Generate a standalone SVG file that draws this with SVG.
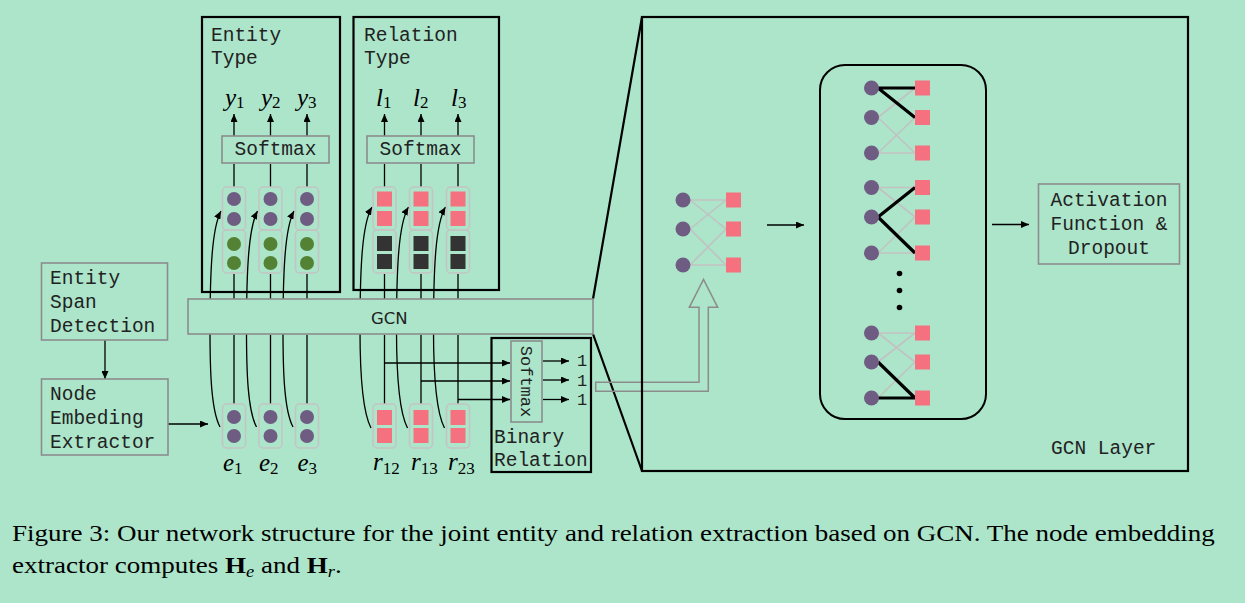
<svg xmlns="http://www.w3.org/2000/svg" width="1245" height="603" viewBox="0 0 1245 603">
<defs>
<marker id="ah" viewBox="0 0 8 7" refX="8" refY="3.5" markerWidth="8" markerHeight="7" markerUnits="userSpaceOnUse" orient="auto">
<path d="M0,0 L8,3.5 L0,7 z" fill="#000"/>
</marker>
</defs>
<style>
.box{fill:none;stroke:#000;stroke-width:2.2}
.gbox{fill:#ace5ca;stroke:#8c8c8c;stroke-width:1.6}
.col{fill:none;stroke:#c4c4c4;stroke-width:1.5}
.mono{font-family:"Liberation Mono","Courier New",monospace;font-size:19.5px;fill:#222}
.sm{font-size:17px}
.sans{font-family:"DejaVu Sans",sans-serif;font-size:16.5px;fill:#222}
.math{font-family:"Liberation Serif",serif;font-style:italic;font-size:25px;fill:#000}
.sub{font-size:17px;font-style:normal}
.cap{font-family:"Liberation Serif","Times New Roman",serif;font-size:23.5px;fill:#000}
.pur{fill:#6e5c82}
.grn{fill:#548235}
.pnk{fill:#f5717f}
.drk{fill:#333}
.arr{stroke:#000;stroke-width:1.3;fill:none;marker-end:url(#ah)}
.thin{stroke:#c2c2c2;stroke-width:1.6}
.thick{stroke:#000;stroke-width:3.2}
</style>
<rect x="0" y="0" width="1245" height="603" fill="#ace5ca"/>

<g id="connectors">
<path class="arr" d="M234 404 L234 335 M234 299 L234 274 M234 187 L234 164 M234 136 L234 114"/>
<path class="arr" d="M270.5 404 L270.5 335 M270.5 299 L270.5 274 M270.5 187 L270.5 164 M270.5 136 L270.5 114"/>
<path class="arr" d="M307 404 L307 335 M307 299 L307 274 M307 187 L307 164 M307 136 L307 114"/>
<path class="arr" d="M220 427 C211 410,210 370,210 330 C210 270,212 228,221 211"/>
<path class="arr" d="M256.5 427 C247.5 410,246.5 370,246.5 330 C246.5 270,248.5 228,257.5 211"/>
<path class="arr" d="M293 427 C284 410,283 370,283 330 C283 270,285 228,294 211"/>
<path class="arr" d="M384.5 404 L384.5 335 M384.5 299 L384.5 274 M384.5 187 L384.5 164 M384.5 136 L384.5 114"/>
<path class="arr" d="M421 404 L421 335 M421 299 L421 274 M421 187 L421 164 M421 136 L421 114"/>
<path class="arr" d="M458 404 L458 335 M458 299 L458 274 M458 187 L458 164 M458 136 L458 114"/>
<path class="arr" d="M371 428 C362 411,360 370,360 330 C360 268,362 224,372 207"/>
<path class="arr" d="M407.5 428 C398.5 411,396.5 370,396.5 330 C396.5 268,398.5 224,408.5 207"/>
<path class="arr" d="M444.5 428 C435.5 411,433.5 370,433.5 330 C433.5 268,435.5 224,445.5 207"/>
<path class="arr" d="M384.5 363 L510 363"/>
<path class="arr" d="M421 381 L510 381"/>
<path class="arr" d="M458 399.5 L510 399.5"/>
<path class="arr" d="M543 361 L569 361"/>
<path class="arr" d="M543 380 L569 380"/>
<path class="arr" d="M543 399.5 L569 399.5"/>
<path class="arr" d="M105 340 L105 379"/>
<path class="arr" d="M168 424 L208 424"/>
<path class="arr" d="M767 225 L804 225"/>
<path class="arr" d="M992 224.5 L1029 224.5"/>
<path d="M593 299 L642 17 M593 334 L642 471" stroke="#000" stroke-width="2.2" fill="none"/>
<path d="M595.7 382.3 L699 382.3 L699 307.3 L689.3 307.3 L703.5 279.3 L717.7 307.3 L708.3 307.3 L708.3 391.3 L595.7 391.3 Z" fill="none" stroke="#8c8c8c" stroke-width="1.5"/>
</g>

<g id="entity-span">
<rect class="gbox" x="41.5" y="263" width="126" height="77"/>
<text class="mono" x="50" y="284">Entity</text>
<text class="mono" x="50" y="308">Span</text>
<text class="mono" x="50" y="332">Detection</text>
</g>

<g id="node-embedding">
<rect class="gbox" x="41.5" y="379" width="126.5" height="76"/>
<text class="mono" x="50" y="400">Node</text>
<text class="mono" x="50" y="424">Embeding</text>
<text class="mono" x="50" y="448">Extractor</text>
</g>

<g id="gcn-bar">
<rect class="gbox" x="188" y="299" width="405" height="35"/>
<text class="sans" x="371" y="323.5">GCN</text>
</g>

<g id="entity-type">
<rect class="box" x="202" y="17" width="138" height="275"/>
<text class="mono" x="211" y="41">Entity</text>
<text class="mono" x="211" y="64">Type</text>
<rect class="gbox" x="222" y="136" width="107" height="27"/>
<text class="mono" x="275.5" y="155" text-anchor="middle">Softmax</text>
<text class="math" x="225" y="106">y<tspan class="sub" dy="2">1</tspan></text>
<text class="math" x="261" y="106">y<tspan class="sub" dy="2">2</tspan></text>
<text class="math" x="297" y="106">y<tspan class="sub" dy="2">3</tspan></text>
</g>

<g id="entity-hidden">
<rect class="col" x="222.5" y="187" width="23" height="43" rx="4"/>
<rect class="col" x="222.5" y="230" width="23" height="43" rx="4"/>
<rect class="col" x="259" y="187" width="23" height="43" rx="4"/>
<rect class="col" x="259" y="230" width="23" height="43" rx="4"/>
<rect class="col" x="295.5" y="187" width="23" height="43" rx="4"/>
<rect class="col" x="295.5" y="230" width="23" height="43" rx="4"/>
<circle class="pur" cx="234" cy="199" r="7"/><circle class="pur" cx="234" cy="219" r="7"/>
<circle class="grn" cx="234" cy="244" r="7"/><circle class="grn" cx="234" cy="263" r="7"/>
<circle class="pur" cx="270.5" cy="199" r="7"/><circle class="pur" cx="270.5" cy="219" r="7"/>
<circle class="grn" cx="270.5" cy="244" r="7"/><circle class="grn" cx="270.5" cy="263" r="7"/>
<circle class="pur" cx="307" cy="199" r="7"/><circle class="pur" cx="307" cy="219" r="7"/>
<circle class="grn" cx="307" cy="244" r="7"/><circle class="grn" cx="307" cy="263" r="7"/>
</g>

<g id="entity-nodes">
<rect class="col" x="222.5" y="404" width="23" height="44" rx="4"/>
<rect class="col" x="259" y="404" width="23" height="44" rx="4"/>
<rect class="col" x="295.5" y="404" width="23" height="44" rx="4"/>
<circle class="pur" cx="234" cy="417" r="7"/><circle class="pur" cx="234" cy="436" r="7"/>
<circle class="pur" cx="270.5" cy="417" r="7"/><circle class="pur" cx="270.5" cy="436" r="7"/>
<circle class="pur" cx="307" cy="417" r="7"/><circle class="pur" cx="307" cy="436" r="7"/>
<text class="math" x="223" y="471">e<tspan class="sub" dy="3">1</tspan></text>
<text class="math" x="259" y="471">e<tspan class="sub" dy="3">2</tspan></text>
<text class="math" x="297.5" y="471">e<tspan class="sub" dy="3">3</tspan></text>
</g>

<g id="relation-type">
<rect class="box" x="353.5" y="17" width="145.5" height="273"/>
<text class="mono" x="364" y="41">Relation</text>
<text class="mono" x="364" y="64">Type</text>
<rect class="gbox" x="367" y="136" width="107" height="27"/>
<text class="mono" x="420.5" y="155" text-anchor="middle">Softmax</text>
<text class="math" x="376" y="106">l<tspan class="sub" dy="2">1</tspan></text>
<text class="math" x="413" y="106">l<tspan class="sub" dy="2">2</tspan></text>
<text class="math" x="451" y="106">l<tspan class="sub" dy="2">3</tspan></text>
</g>

<g id="relation-hidden">
<rect class="col" x="373" y="187" width="23" height="43" rx="4"/>
<rect class="col" x="373" y="230" width="23" height="43" rx="4"/>
<rect class="col" x="409.5" y="187" width="23" height="43" rx="4"/>
<rect class="col" x="409.5" y="230" width="23" height="43" rx="4"/>
<rect class="col" x="446.5" y="187" width="23" height="43" rx="4"/>
<rect class="col" x="446.5" y="230" width="23" height="43" rx="4"/>
<rect class="pnk" x="377" y="191.5" width="15" height="15"/><rect class="pnk" x="377" y="211" width="15" height="15"/>
<rect class="drk" x="377" y="236" width="15" height="15"/><rect class="drk" x="377" y="254" width="15" height="15"/>
<rect class="pnk" x="413.5" y="191.5" width="15" height="15"/><rect class="pnk" x="413.5" y="211" width="15" height="15"/>
<rect class="drk" x="413.5" y="236" width="15" height="15"/><rect class="drk" x="413.5" y="254" width="15" height="15"/>
<rect class="pnk" x="450.5" y="191.5" width="15" height="15"/><rect class="pnk" x="450.5" y="211" width="15" height="15"/>
<rect class="drk" x="450.5" y="236" width="15" height="15"/><rect class="drk" x="450.5" y="254" width="15" height="15"/>
</g>

<g id="relation-nodes">
<rect class="col" x="373" y="404" width="23" height="44" rx="4"/>
<rect class="col" x="409.5" y="404" width="23" height="44" rx="4"/>
<rect class="col" x="446.5" y="404" width="23" height="44" rx="4"/>
<rect class="pnk" x="377" y="410" width="15" height="15"/><rect class="pnk" x="377" y="428" width="15" height="15"/>
<rect class="pnk" x="413.5" y="410" width="15" height="15"/><rect class="pnk" x="413.5" y="428" width="15" height="15"/>
<rect class="pnk" x="450.5" y="410" width="15" height="15"/><rect class="pnk" x="450.5" y="428" width="15" height="15"/>
<text class="math" x="373" y="470">r<tspan class="sub" dy="4">12</tspan></text>
<text class="math" x="411" y="470">r<tspan class="sub" dy="4">13</tspan></text>
<text class="math" x="448" y="470">r<tspan class="sub" dy="4">23</tspan></text>
</g>

<g id="binary-relation">
<rect class="box" x="491.5" y="338" width="99.5" height="134"/>
<rect class="gbox" x="511" y="341" width="31" height="81"/>
<text class="mono sm" transform="translate(526.5,381.5) rotate(90)" x="0" y="6" text-anchor="middle">Softmax</text>
<text class="mono sm" x="577" y="366">1</text>
<text class="mono sm" x="577" y="385.5">1</text>
<text class="mono sm" x="577" y="405">1</text>
<text class="mono" x="494" y="443">Binary</text>
<text class="mono" x="494" y="466">Relation</text>
</g>

<g id="gcn-layer">
<rect class="box" x="642" y="17" width="546" height="454"/>
<text class="mono" x="1051" y="454">GCN Layer</text>
</g>

<g id="small-graph">
<path class="thin" d="M690 200 L726 200 M690 200 L726 229 M690 229 L726 200 M690 229 L726 265 M690 265 L726 229 M690 265 L726 265"/>
<circle class="pur" cx="683" cy="200" r="7.5"/><circle class="pur" cx="683" cy="229" r="7.5"/><circle class="pur" cx="683" cy="265" r="7.5"/>
<rect class="pnk" x="726" y="192.5" width="15" height="15"/><rect class="pnk" x="726" y="221.5" width="15" height="15"/><rect class="pnk" x="726" y="257.5" width="15" height="15"/>
</g>

<g id="aggregation">
<rect x="820" y="65" width="166" height="354" rx="25" fill="none" stroke="#000" stroke-width="2"/>
<path class="thin" d="M878 117.5 L915 88 M878 117.5 L915 153 M878 153 L915 153 M878 153 L915 117.5"/>
<path class="thin" d="M878 187.5 L915 187.5 M878 187.5 L915 217 M878 253 L915 253 M878 253 L915 217"/>
<path class="thin" d="M878 333 L915 333 M878 333 L915 362 M878 362 L915 333 M878 398 L915 362"/>
<path class="thick" d="M878 88 L915 88 M878 88 L915 117.5"/>
<path class="thick" d="M878 217 L915 187.5 M878 217 L915 253"/>
<path class="thick" d="M878 362 L915 398 M878 398 L915 398"/>
<circle class="pur" cx="871.5" cy="88" r="7.5"/><circle class="pur" cx="871.5" cy="117.5" r="7.5"/><circle class="pur" cx="871.5" cy="153" r="7.5"/>
<circle class="pur" cx="871.5" cy="187.5" r="7.5"/><circle class="pur" cx="871.5" cy="217" r="7.5"/><circle class="pur" cx="871.5" cy="253" r="7.5"/>
<circle class="pur" cx="871.5" cy="333" r="7.5"/><circle class="pur" cx="871.5" cy="362" r="7.5"/><circle class="pur" cx="871.5" cy="398" r="7.5"/>
<rect class="pnk" x="915" y="80.5" width="15" height="15"/><rect class="pnk" x="915" y="110" width="15" height="15"/><rect class="pnk" x="915" y="145.5" width="15" height="15"/>
<rect class="pnk" x="915" y="180" width="15" height="15"/><rect class="pnk" x="915" y="209.5" width="15" height="15"/><rect class="pnk" x="915" y="245.5" width="15" height="15"/>
<rect class="pnk" x="915" y="325.5" width="15" height="15"/><rect class="pnk" x="915" y="354.5" width="15" height="15"/><rect class="pnk" x="915" y="390.5" width="15" height="15"/>
<circle cx="899.5" cy="273.5" r="2.8" fill="#000"/><circle cx="899.5" cy="290.5" r="2.8" fill="#000"/><circle cx="899.5" cy="307.5" r="2.8" fill="#000"/>
</g>

<g id="activation">
<rect class="gbox" x="1038.5" y="184" width="141" height="80"/>
<text class="mono" x="1109" y="206" text-anchor="middle">Activation</text>
<text class="mono" x="1109" y="230" text-anchor="middle">Function &amp;</text>
<text class="mono" x="1109" y="253.5" text-anchor="middle">Dropout</text>
</g>

<g id="caption" transform="translate(12,0) scale(1.15,1) translate(-12,0)">
<text class="cap" x="12" y="540.7">Figure 3: Our network structure for the joint entity and relation extraction based on GCN. The node embedding</text>
<text class="cap" x="12" y="572.7">extractor computes <tspan font-weight="bold">H</tspan><tspan font-style="italic" font-size="16" dy="4">e</tspan><tspan dy="-4"> and </tspan><tspan font-weight="bold">H</tspan><tspan font-style="italic" font-size="16" dy="4">r</tspan><tspan dy="-4">.</tspan></text>
</g>
</svg>
